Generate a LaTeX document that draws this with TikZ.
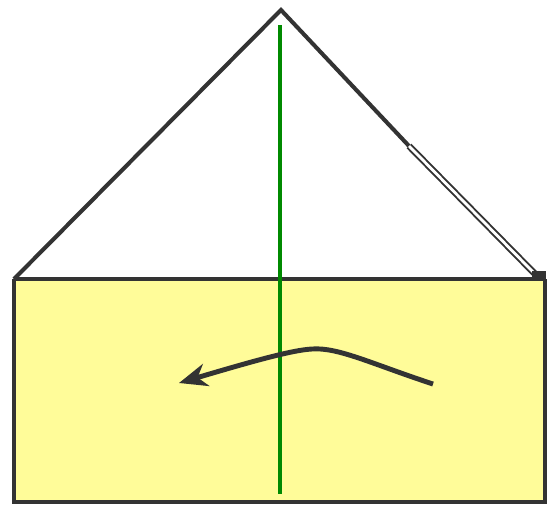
\documentclass[tikz,border=0pt]{standalone}
\usepackage{xcolor}
\usetikzlibrary{arrows.meta,calc}

\definecolor{wallyellow}{HTML}{FFFC99}
\definecolor{edgegray}{HTML}{333333}
\definecolor{axisgreen}{HTML}{008A00}

\begin{document}
\begin{tikzpicture}[
    x=0.02cm, y=-0.02cm,
    edge/.style={draw=edgegray, line width=2.3pt, line join=miter},
    fold/.style={draw=edgegray, line width=1.1pt, double=white, double distance=1.6pt},
    axis/.style={draw=axisgreen, line width=2.8pt},
    turn/.style={draw=edgegray, line width=2.8pt, -{Stealth[length=16pt, width=13pt, inset=5pt]}}
]
    \useasboundingbox (0,0) rectangle (553,504);

    % points of the roof and the wall
    \coordinate (apex) at (281,10);
    \coordinate (bl) at (14,279);
    \coordinate (br) at (545,279);
    \coordinate (kink) at (409,146);
    \coordinate (eave) at (537,276);

    % wall
    \fill[wallyellow] (14,279) rectangle (545,502);
    \draw[edge] (bl) -- (14,502) -- (545,502) -- (br);

    % roof
    \draw[edge] (bl) -- (apex) -- (kink);
    \draw[fold] (kink) -- (eave);
    \draw[edge] (bl) -- (br);
    \fill[edgegray] (532,271) rectangle (546,281);

    % axis
    \coordinate (top) at (280,25);
    \coordinate (bottom) at (280,494);
    \draw[axis] (top) -- (bottom);

    % rotation arrow
    \coordinate (tail) at (433,384);
    \coordinate (peak) at (312,349);
    \coordinate (tip) at (179,383);
    \draw[turn] (tail) .. controls (372,364) and (338,347) .. (peak)
        .. controls (292,350) and (250,362) .. (tip);
\end{tikzpicture}
\end{document}
